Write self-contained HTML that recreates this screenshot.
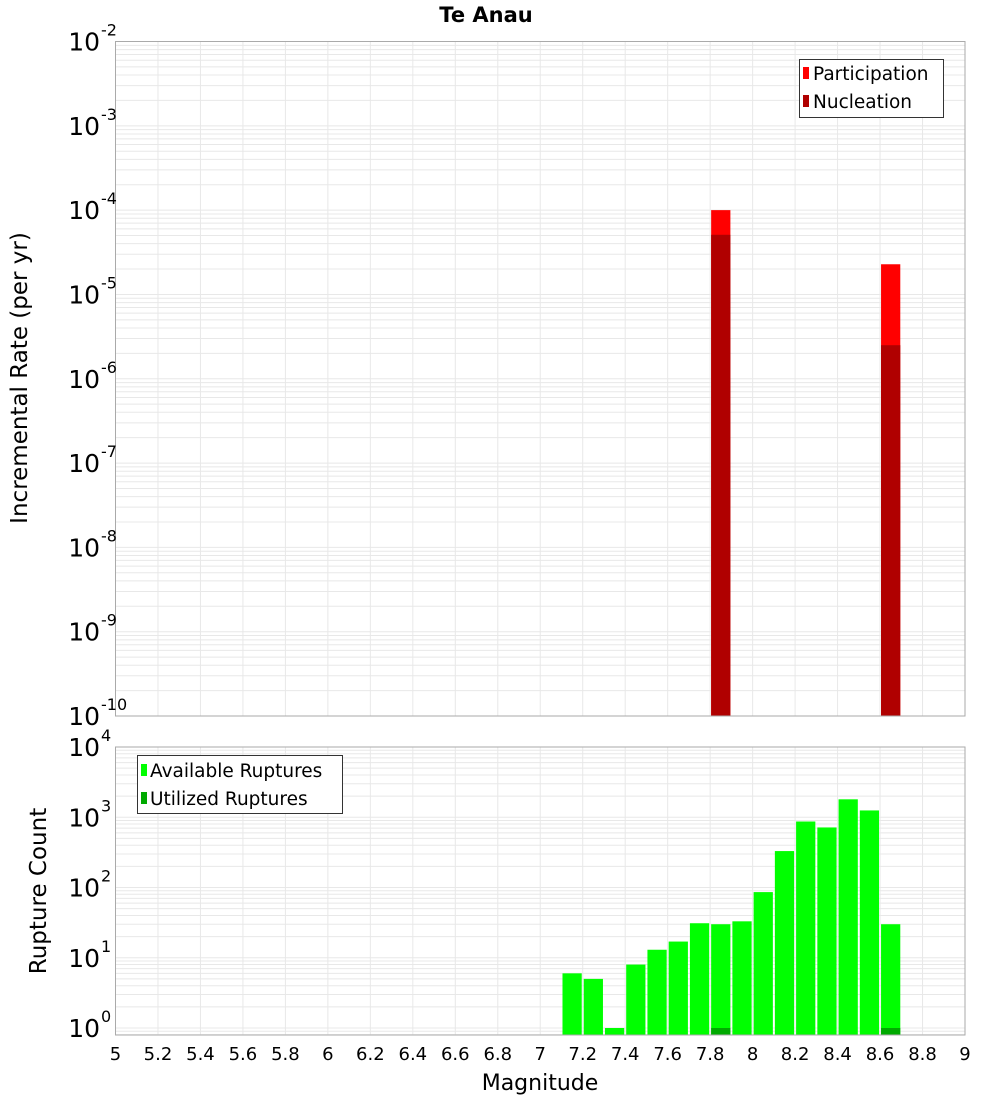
<!DOCTYPE html>
<html><head><meta charset="utf-8"><style>
body{margin:0;background:#fff;}
svg text{font-family:"DejaVu Sans","Liberation Sans",sans-serif;}
</style></head><body>
<svg id="chart" width="1000" height="1100" xmlns="http://www.w3.org/2000/svg">
<text x="486" y="22" text-anchor="middle" font-size="21" font-weight="bold">Te Anau</text>
<g id="gtop"></g><g id="gbot"></g>
<text transform="translate(27,378) rotate(-90)" text-anchor="middle" font-size="23">Incremental Rate (per yr)</text>
<text transform="translate(46,891) rotate(-90)" text-anchor="middle" font-size="23">Rupture Count</text>
<text x="540" y="1090" text-anchor="middle" font-size="22">Magnitude</text>
<g>
<rect x="799.5" y="59.5" width="144" height="58" fill="#fff" stroke="#333"/>
<rect x="803" y="67" width="6" height="12" fill="#ff0000"/>
<text x="813" y="80" font-size="18.5">Participation</text>
<rect x="803" y="95" width="6" height="12" fill="#b00000"/>
<text x="813" y="108" font-size="18.5">Nucleation</text>
</g>
<g>
<rect x="137.5" y="755.5" width="205" height="58" fill="#fff" stroke="#333"/>
<rect x="141" y="764" width="6" height="12" fill="#00ff00"/>
<text x="150" y="777" font-size="18.5">Available Ruptures</text>
<rect x="141" y="792" width="6" height="12" fill="#00aa00"/>
<text x="150" y="805" font-size="18.5">Utilized Ruptures</text>
</g>
</svg>
<script>
const xTicks=[5,5.2,5.4,5.6,5.8,6,6.2,6.4,6.6,6.8,7,7.2,7.4,7.6,7.8,8,8.2,8.4,8.6,8.8,9];
const topDecades=[-2,-3,-4,-5,-6,-7,-8,-9,-10];
const botDecades=[4,3,2,1,0];
const rateMags=[7.8,8.6];
const participation=[1.0e-4,2.28e-5];
const nucleation=[5.1e-5,2.5e-6];
const countMags=[7.1,7.2,7.3,7.4,7.5,7.6,7.7,7.8,7.9,8.0,8.1,8.2,8.3,8.4,8.5,8.6];
const available=[6,5,1,8,13,17,31,30,33,86,330,870,716,1800,1250,30];
const utilized=[0,0,0,0,0,0,0,1,0,0,0,0,0,0,0,1];

const NS="http://www.w3.org/2000/svg";
const X0=115.5,X1=965;
const xs=m=>X0+(m-5)/4*(X1-X0);
const T={top:41.5,bot:716,lo:-10,hi:-2};
const B={top:747,bot:1035,lo:-0.1,hi:4};
B.lo=4-(B.bot-B.top)/((1028-747)/4);
const ys=(P,v)=>P.bot-(Math.log10(v)-P.lo)/(P.hi-P.lo)*(P.bot-P.top);
function mk(par,tag,attrs){const e=document.createElementNS(NS,tag);for(const k in attrs)e.setAttribute(k,attrs[k]);par.appendChild(e);return e;}
function grid(g,P){
  for(let d=Math.floor(P.lo);d<P.hi;d++){for(let k=1;k<10;k++){const v=k*Math.pow(10,d);const lv=Math.log10(v);if(lv<P.lo||lv>P.hi)continue;const y=ys(P,v);
    const l=mk(g,'line',{x1:X0,x2:X1,y1:y,y2:y,stroke:'#e8e8e8','stroke-width':1});
    
    }}
  xTicks.forEach(t=>{const x=xs(t);const l=mk(g,'line',{x1:x,x2:x,y1:P.top,y2:P.bot,stroke:'#e8e8e8','stroke-width':1});
    
    });
}
function ylabels(g,P,decs,name){decs.forEach(d=>{const y=ys(P,Math.pow(10,d));const t=mk(g,'text',{x:100,y:y+9,'text-anchor':'end','font-size':25});t.textContent='10';
  
  
  const s=mk(g,'text',{x:101,y:y-6,'font-size':16});s.textContent=String(d);
  
  });}
const gTop=document.getElementById('gtop'),gBot=document.getElementById('gbot');
grid(gTop,T);grid(gBot,B);
rateMags.forEach((m,i)=>{
  const x=xs(m)+1,w=xs(m+0.1)-xs(m)-2;
  const y1=ys(T,participation[i]);
  const r=mk(gTop,'rect',{x:x,y:y1,width:w,height:T.bot-y1,fill:'#ff0000'});
  
  
  const y2=ys(T,nucleation[i]);
  const r2=mk(gTop,'rect',{x:x,y:y2,width:w,height:T.bot-y2,fill:'#b00000'});
  
  
});
countMags.forEach((m,i)=>{
  const x=xs(m)+1,w=xs(m+0.1)-xs(m)-2;
  const y1=ys(B,available[i]);
  const r=mk(gBot,'rect',{x:x,y:y1,width:w,height:B.bot-y1,fill:'#00ff00'});
  
  
  if(utilized[i]>0){const y2=ys(B,utilized[i]);
    const r2=mk(gBot,'rect',{x:x,y:y2,width:w,height:B.bot-y2,fill:'#00aa00'});
    
    }
});
[[gTop,T],[gBot,B]].forEach(([g,P])=>{const f=mk(g,'rect',{x:X0,y:P.top,width:X1-X0,height:P.bot-P.top,fill:'none',stroke:'#aaa','stroke-width':1});
  
  });
ylabels(gTop,T,topDecades,'top-y-tick-label');
ylabels(gBot,B,botDecades,'bottom-y-tick-label');
xTicks.forEach(t=>{const e=mk(gBot,'text',{x:xs(t),y:1060,'text-anchor':'middle','font-size':18});e.textContent=String(t);
  
  });
</script>
</body></html>
